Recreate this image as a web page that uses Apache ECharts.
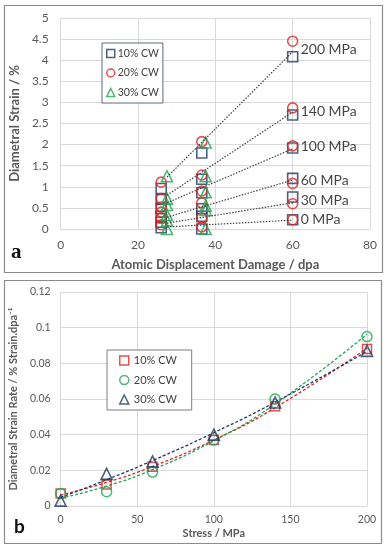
<!DOCTYPE html>
<html><head><meta charset="utf-8">
<script src="https://cdn.jsdelivr.net/npm/echarts@6/dist/echarts.min.js"></script>
<style>html,body{margin:0;padding:0;background:#fff}#c{width:391px;height:550px}</style>
</head><body><div id="c"></div>
<script>
// ---------- Panel a data ----------
const stressLabels = ['200 MPa','140 MPa','100 MPa','60 MPa','30 MPa','0 MPa'];
const dpa10 = [26, 36.5, 60];
const strain10 = [
  [0.96, 0.70, 0.48, 0.30, 0.16, 0.03],
  [1.80, 1.18, 0.86, 0.48, 0.30, 0.00],
  [4.08, 2.70, 1.92, 1.20, 0.76, 0.22]
];
const dpa20 = [26, 36.5, 60];
const strain20 = [
  [1.11, 0.72, 0.52, 0.40, 0.26, 0.10],
  [2.07, 1.28, 0.90, 0.62, 0.26, 0.05],
  [4.45, 2.87, 1.97, 1.08, 0.60, 0.22]
];
const dpa30 = [27.5, 37.5];
const strain30 = [
  [1.25, 0.72, 0.57, 0.33, 0.20, 0.00],
  [2.05, 1.25, 0.87, 0.55, 0.45, 0.00]
];
const trendDpa = [27.5, 60];
const trendStart = [1.23, 0.80, 0.62, 0.28, 0.14, 0.05];
const trendEnd = [4.20, 2.77, 1.90, 1.16, 0.62, 0.21];

// ---------- Panel b data ----------
const stress = [0, 30, 60, 100, 140, 200];
const rate10 = [0.007, 0.012, 0.022, 0.037, 0.056, 0.088];
const rate20 = [0.007, 0.008, 0.019, 0.037, 0.060, 0.095];
const rate30 = [0.003, 0.018, 0.025, 0.040, 0.058, 0.087];

const NAVY = '#1F3864', RED = '#E02424', GREEN = '#21A453';
const GREY = '#595959', GRID = '#D9D9D9';
const FONT = 'Lato, "Open Sans", sans-serif';

function pts(xs, cols) {
  const out = [];
  cols.forEach((col, i) => col.forEach(v => out.push([xs[i], v])));
  return out;
}
// quadratic least-squares trendline (as the spreadsheet's polynomial trendline)
function quadFit(xs, ys) {
  let n = xs.length, s = [0,0,0,0,0], t = [0,0,0];
  for (let i = 0; i < n; i++) {
    const x = xs[i], y = ys[i];
    for (let k = 0; k < 5; k++) s[k] += Math.pow(x, k);
    for (let k = 0; k < 3; k++) t[k] += y * Math.pow(x, k);
  }
  const A = [[s[0],s[1],s[2],t[0]],[s[1],s[2],s[3],t[1]],[s[2],s[3],s[4],t[2]]];
  for (let i = 0; i < 3; i++) {
    for (let j = i + 1; j < 3; j++) {
      const f = A[j][i] / A[i][i];
      for (let k = i; k < 4; k++) A[j][k] -= f * A[i][k];
    }
  }
  const c = [0,0,0];
  for (let i = 2; i >= 0; i--) {
    let v = A[i][3];
    for (let k = i + 1; k < 3; k++) v -= A[i][k] * c[k];
    c[i] = v / A[i][i];
  }
  return xs.map(x => [x, c[0] + c[1] * x + c[2] * x * x]);
}

const chart = echarts.init(document.getElementById('c'), null, {renderer: 'canvas'});

const series = [];
// panel a trend lines
stressLabels.forEach((s, i) => {
  series.push({
    type: 'line', xAxisIndex: 0, yAxisIndex: 0, silent: true, symbol: 'none', z: 4,
    data: [[trendDpa[0], trendStart[i]], [trendDpa[1], trendEnd[i]]],
    lineStyle: {color: '#404040', width: 1.2, type: [1.5, 1.5]}
  });
});
series.push({
  name: '10% CW', type: 'scatter', xAxisIndex: 0, yAxisIndex: 0, symbol: 'rect', symbolSize: 10, z: 3,
  data: pts(dpa10, strain10),
  itemStyle: {color: 'rgba(255,255,255,0)', borderColor: NAVY, borderWidth: 1.6}
});
series.push({
  name: '20% CW', type: 'scatter', xAxisIndex: 0, yAxisIndex: 0, symbol: 'circle', symbolSize: 10, z: 3,
  data: pts(dpa20, strain20),
  itemStyle: {color: 'rgba(255,255,255,0)', borderColor: RED, borderWidth: 1.6}
});
series.push({
  name: '30% CW', type: 'scatter', xAxisIndex: 0, yAxisIndex: 0, symbol: 'triangle', symbolSize: 11, z: 3,
  data: pts(dpa30, strain30),
  itemStyle: {color: 'rgba(255,255,255,0)', borderColor: GREEN, borderWidth: 1.6}
});
// stress labels anchored at mean of the 60 dpa points
series.push({
  type: 'scatter', xAxisIndex: 0, yAxisIndex: 0, symbolSize: 0, silent: true, z: 5,
  data: stressLabels.map((s, i) => ({value: [dpa10[2], (strain10[2][i] + strain20[2][i]) / 2], name: s})),
  label: {show: true, position: 'right', distance: 8, formatter: p => p.name,
    fontFamily: FONT, fontSize: 14, color: '#111'}
});

// panel b
[[rate10, RED], [rate20, GREEN], [rate30, NAVY]].forEach(([arr, col]) => {
  series.push({
    type: 'line', xAxisIndex: 1, yAxisIndex: 1, silent: true, symbol: 'none', smooth: true, z: 2,
    data: quadFit(stress, arr),
    lineStyle: {color: col, width: 1.3, type: [3, 2]}
  });
});
series.push({
  name: '10% CW ', type: 'scatter', xAxisIndex: 1, yAxisIndex: 1, symbol: 'rect', symbolSize: 9, z: 3,
  data: stress.map((x, i) => [x, rate10[i]]),
  itemStyle: {color: 'rgba(255,255,255,0)', borderColor: RED, borderWidth: 1.5}
});
series.push({
  name: '20% CW ', type: 'scatter', xAxisIndex: 1, yAxisIndex: 1, symbol: 'circle', symbolSize: 10, z: 3,
  data: stress.map((x, i) => [x, rate20[i]]),
  itemStyle: {color: 'rgba(255,255,255,0)', borderColor: GREEN, borderWidth: 1.5}
});
series.push({
  name: '30% CW ', type: 'scatter', xAxisIndex: 1, yAxisIndex: 1, symbol: 'triangle', symbolSize: 11, z: 3,
  data: stress.map((x, i) => [x, rate30[i]]),
  itemStyle: {color: 'rgba(255,255,255,0)', borderColor: NAVY, borderWidth: 1.6}
});

const labA = {color: GREY, fontFamily: FONT, fontSize: 12};
const labB = {color: GREY, fontFamily: FONT, fontSize: 10.5};
const nameA = {color: GREY, fontFamily: FONT, fontSize: 13, fontWeight: 'bold'};
const nameB = {color: GREY, fontFamily: FONT, fontSize: 11, fontWeight: 'bold'};

function legendItems(names, syms, cols) {
  return names.map((n, i) => ({name: n, icon: syms[i],
    itemStyle: {color: 'rgba(255,255,255,0)', borderColor: cols[i], borderWidth: 1.5}}));
}

chart.setOption({
  backgroundColor: '#fff',
  animation: false,
  grid: [
    {left: 57, right: 21, top: 18, bottom: 321, containLabel: false},
    {left: 60, right: 24, top: 292, bottom: 44, containLabel: false}
  ],
  xAxis: [
    {gridIndex: 0, type: 'value', min: 0, max: 80, interval: 20,
     name: 'Atomic Displacement Damage / dpa', nameLocation: 'middle', nameGap: 29, nameTextStyle: nameA,
     axisLine: {show: true, lineStyle: {color: GRID}}, axisTick: {show: false},
     axisLabel: Object.assign({margin: 10}, labA),
     splitLine: {show: true, lineStyle: {color: GRID}}},
    {gridIndex: 1, type: 'value', min: 0, max: 200, interval: 50,
     name: 'Stress / MPa', nameLocation: 'middle', nameGap: 22, nameTextStyle: nameB,
     axisLine: {show: true, lineStyle: {color: GRID}}, axisTick: {show: false},
     axisLabel: Object.assign({margin: 8}, labB),
     splitLine: {show: true, lineStyle: {color: GRID}}}
  ],
  yAxis: [
    {gridIndex: 0, type: 'value', min: 0, max: 5, interval: 0.5,
     name: 'Diametral Strain / %', nameLocation: 'middle', nameGap: 33, nameTextStyle: nameA,
     axisLine: {show: false}, axisTick: {show: false},
     axisLabel: Object.assign({margin: 12}, labA),
     splitLine: {show: true, lineStyle: {color: GRID}}},
    {gridIndex: 1, type: 'value', min: 0, max: 0.12, interval: 0.02,
     name: 'Diametral Strain Rate / % Strain.dpa\u207B\u00B9', nameLocation: 'middle', nameGap: 33, nameTextStyle: nameB,
     axisLine: {show: false}, axisTick: {show: false},
     axisLabel: Object.assign({margin: 10, formatter: v => String(+v.toFixed(2))}, labB),
     splitLine: {show: true, lineStyle: {color: GRID}}}
  ],
  legend: [
    {orient: 'vertical', left: 102, top: 43, padding: [5, 4, 5, 4], itemGap: 8.5,
     itemWidth: 8, itemHeight: 8, selectedMode: false,
     backgroundColor: '#fff', borderColor: '#5B6B7B', borderWidth: 1,
     textStyle: {color: '#404040', fontFamily: FONT, fontSize: 10.5, padding: [0, 0, 0, -2]},
     data: legendItems(['10% CW', '20% CW', '30% CW'], ['rect', 'circle', 'triangle'], [NAVY, RED, GREEN])},
    {orient: 'vertical', left: 107, top: 350, padding: [5, 12, 5, 12], itemGap: 8.5,
     itemWidth: 9, itemHeight: 9, selectedMode: false,
     backgroundColor: '#fff', borderColor: '#7F7F7F', borderWidth: 1,
     textStyle: {color: '#404040', fontFamily: FONT, fontSize: 11},
     data: legendItems(['10% CW ', '20% CW ', '30% CW '], ['rect', 'circle', 'triangle'], [RED, GREEN, NAVY])}
  ],
  graphic: [
    {type: 'rect', shape: {x: 4.5, y: 5.5, width: 378, height: 267}, z: -10,
     style: {fill: 'none', stroke: '#8C8C8C', lineWidth: 1.2}},
    {type: 'rect', shape: {x: 4.5, y: 280.5, width: 377, height: 263}, z: -10,
     style: {fill: 'none', stroke: '#8C8C8C', lineWidth: 1.2}},
    {type: 'text', left: 11, top: 242, style: {text: 'a', fill: '#111', font: 'bold 21px "Liberation Serif", serif'}},
    {type: 'text', left: 14, top: 517, style: {text: 'b', fill: '#111', font: 'bold 19px Lato, sans-serif'}}
  ],
  series: series
});
</script></body></html>
